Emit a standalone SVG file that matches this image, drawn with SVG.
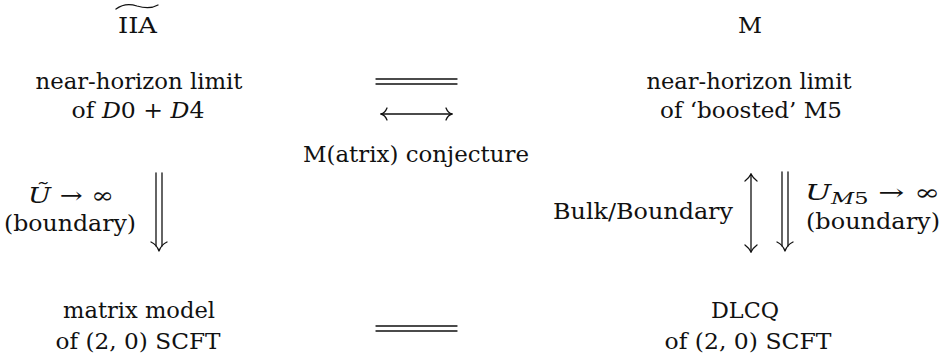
<svg xmlns="http://www.w3.org/2000/svg" width="945" height="361" viewBox="0 0 945 361">
<style>
text{font-family:"DejaVu Serif",serif;font-size:22px;fill:#111;}
.c{text-anchor:middle;}
.e{text-anchor:end;}
.i{font-style:italic;}
.ln{stroke:#111;stroke-width:1.3;fill:none;stroke-linecap:round;stroke-linejoin:round;}
</style>
<rect width="945" height="361" fill="#fff"/>
<g id="node-iia-top">
<text class="c" x="137.5" y="33" textLength="39" lengthAdjust="spacingAndGlyphs">IIA</text>
<path class="ln" d="M116,9 C124,3 131,4 137,6 C144,8 151,9 158,5"/>
</g>
<g id="node-m-top">
<text class="c" x="750" y="33" textLength="24" lengthAdjust="spacingAndGlyphs">M</text>
</g>
<g id="node-iia">
<text class="c" x="139" y="89" textLength="207" lengthAdjust="spacingAndGlyphs">near-horizon limit</text>
<text class="c" x="138" y="118" textLength="133" lengthAdjust="spacingAndGlyphs">of <tspan class="i">D</tspan>0 + <tspan class="i">D</tspan>4</text>
</g>
<g id="node-m">
<text class="c" x="749" y="89" textLength="205" lengthAdjust="spacingAndGlyphs">near-horizon limit</text>
<text class="c" x="751" y="118" textLength="182" lengthAdjust="spacingAndGlyphs">of ‘boosted’ M5</text>
</g>
<g id="node-matrix">
<text class="c" x="139" y="318" textLength="152" lengthAdjust="spacingAndGlyphs">matrix model</text>
<text class="c" x="138" y="349" textLength="165" lengthAdjust="spacingAndGlyphs">of (2, 0) SCFT</text>
</g>
<g id="node-dlcq">
<text class="c" x="745" y="318" textLength="68" lengthAdjust="spacingAndGlyphs">DLCQ</text>
<text class="c" x="748" y="349" textLength="167" lengthAdjust="spacingAndGlyphs">of (2, 0) SCFT</text>
</g>
<g id="connectors">
<line class="ln" x1="376" y1="79" x2="457" y2="79"/>
<line class="ln" x1="376" y1="84" x2="457" y2="84"/>
<line class="ln" x1="381" y1="114" x2="452" y2="114"/>
<path class="ln" d="M387,108 Q385,113 381,114 Q385,115 387,120"/>
<path class="ln" d="M446,108 Q448,113 452,114 Q448,115 446,120"/>
<text class="c" x="416" y="162" textLength="226" lengthAdjust="spacingAndGlyphs">M(atrix) conjecture</text>
<line class="ln" x1="376" y1="326" x2="457" y2="326"/>
<line class="ln" x1="376" y1="331" x2="457" y2="331"/>
<line class="ln" x1="156" y1="173" x2="156" y2="246"/>
<line class="ln" x1="162" y1="173" x2="162" y2="246"/>
<path class="ln" d="M151,242 Q157,245 159,251 Q161,245 167,242"/>
<text class="c" x="71" y="203" textLength="86" lengthAdjust="spacingAndGlyphs"><tspan class="i">Ũ</tspan> → ∞</text>
<text class="c" x="70" y="231" textLength="132" lengthAdjust="spacingAndGlyphs">(boundary)</text>
<line class="ln" x1="751" y1="174" x2="751" y2="252"/>
<path class="ln" d="M745,181 Q749,178 751,174 Q753,178 757,181"/>
<path class="ln" d="M745,245 Q749,248 751,252 Q753,248 757,245"/>
<text class="e" x="733" y="219" textLength="180" lengthAdjust="spacingAndGlyphs">Bulk/Boundary</text>
<line class="ln" x1="782" y1="172" x2="782" y2="246"/>
<line class="ln" x1="788" y1="172" x2="788" y2="246"/>
<path class="ln" d="M777,242 Q783,245 785,251 Q787,245 793,242"/>
<text x="805" y="200" textLength="135" lengthAdjust="spacingAndGlyphs"><tspan class="i">U</tspan><tspan font-size="16" dy="4"><tspan class="i">M</tspan>5</tspan><tspan dy="-4"> → ∞</tspan></text>
<text class="c" x="873" y="229" textLength="134" lengthAdjust="spacingAndGlyphs">(boundary)</text>
</g>
</svg>
